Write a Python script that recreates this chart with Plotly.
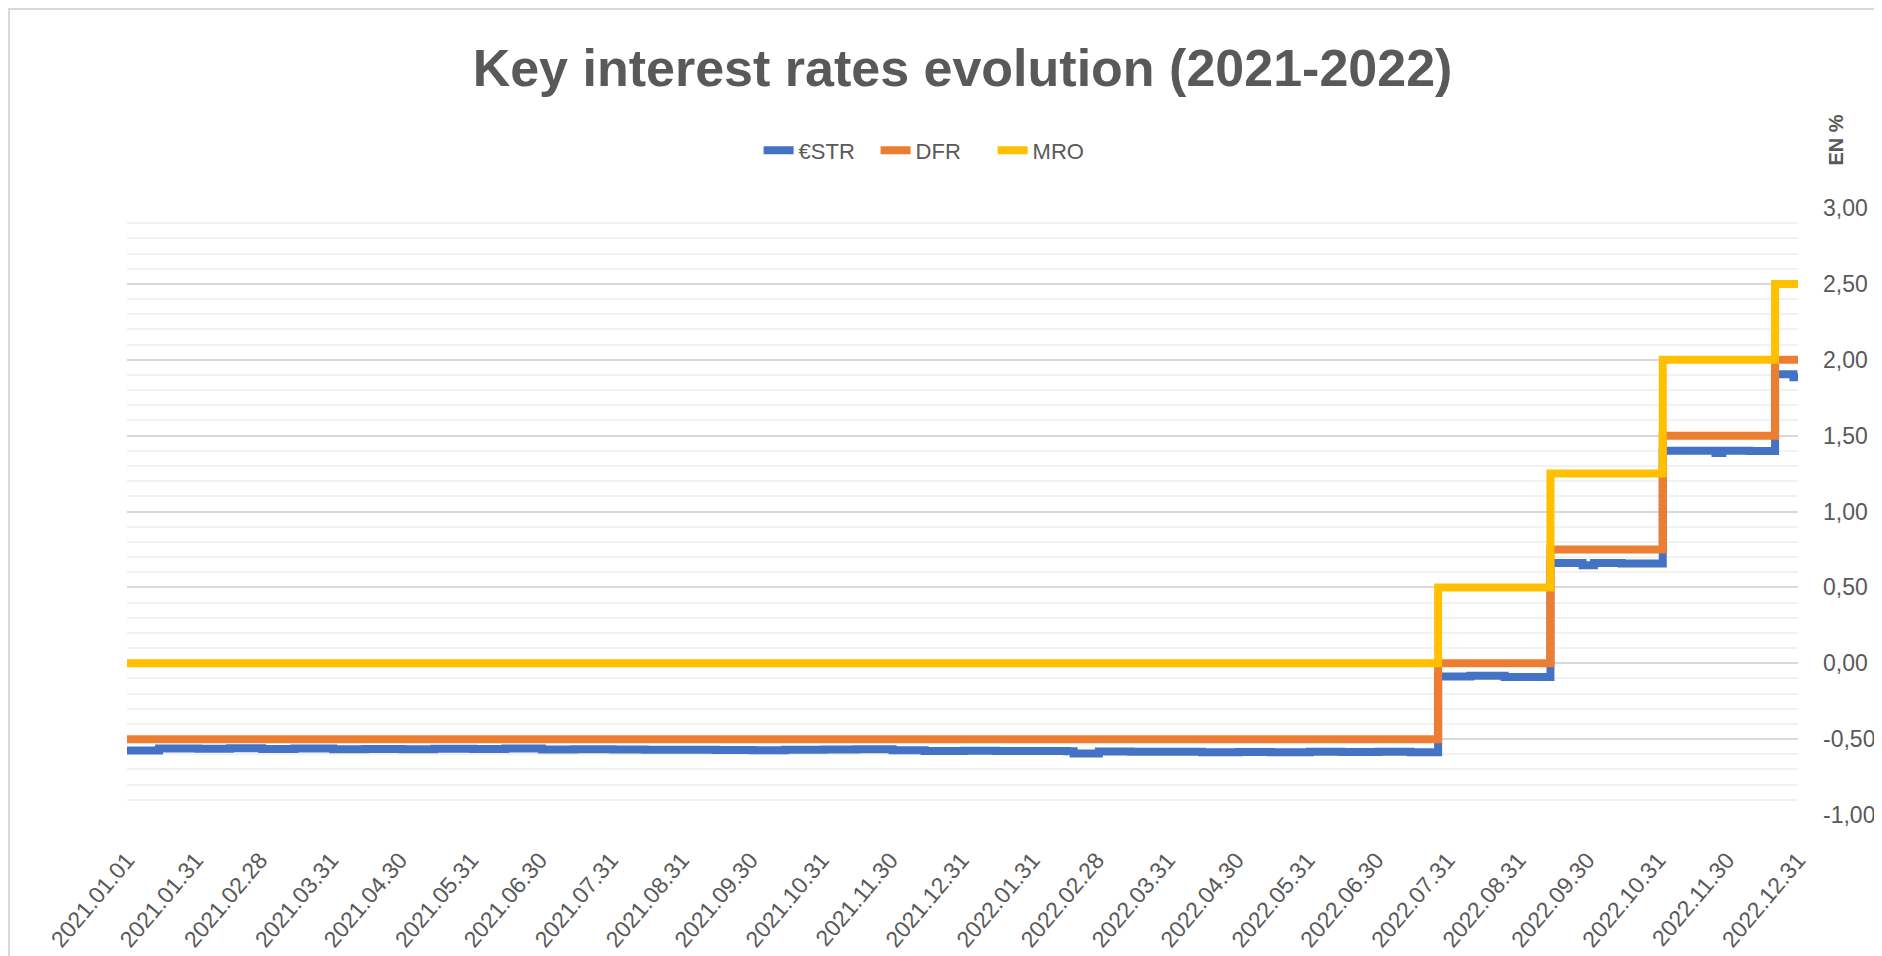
import plotly.graph_objects as go

# policy rate change points (step series)
policy_dates = ["2021-01-01", "2022-07-27", "2022-09-14", "2022-11-02", "2022-12-21", "2022-12-31"]
dfr_values = [-0.50, 0.00, 0.75, 1.50, 2.00, 2.00]
mro_values = [0.00, 0.50, 1.25, 2.00, 2.50, 2.50]

# €STR at roughly fortnightly points
estr_dates = [
    "2021-01-01", "2021-01-15", "2021-02-01", "2021-02-15", "2021-03-01", "2021-03-15",
    "2021-04-01", "2021-04-15", "2021-05-01", "2021-05-15", "2021-06-01", "2021-06-15",
    "2021-07-01", "2021-07-15", "2021-08-01", "2021-08-15", "2021-09-01", "2021-09-15",
    "2021-10-01", "2021-10-15", "2021-11-01", "2021-11-15", "2021-12-01", "2021-12-15",
    "2022-01-01", "2022-01-15", "2022-02-01", "2022-02-15", "2022-02-18", "2022-03-01",
    "2022-03-15", "2022-04-01", "2022-04-15", "2022-05-01", "2022-05-15", "2022-06-01",
    "2022-06-15", "2022-07-01", "2022-07-15", "2022-07-27", "2022-08-10", "2022-08-25",
    "2022-09-14", "2022-09-28", "2022-10-03", "2022-10-15", "2022-11-02", "2022-11-25",
    "2022-11-28", "2022-12-10", "2022-12-21", "2022-12-29", "2022-12-31",
]
estr_values = [
    -0.575, -0.562, -0.564, -0.560, -0.565, -0.562,
    -0.567, -0.565, -0.566, -0.563, -0.565, -0.561,
    -0.568, -0.567, -0.569, -0.570, -0.570, -0.571,
    -0.573, -0.570, -0.568, -0.567, -0.574, -0.578,
    -0.576, -0.578, -0.579, -0.580, -0.595, -0.582,
    -0.584, -0.583, -0.586, -0.585, -0.587, -0.583,
    -0.585, -0.584, -0.586, -0.088, -0.082, -0.090,
    0.660, 0.645, 0.660, 0.658, 1.400, 1.385,
    1.400, 1.398, 1.905, 1.885, 1.885,
]

month_ticks = [
    "2021-01-01", "2021-01-31", "2021-02-28", "2021-03-31", "2021-04-30", "2021-05-31",
    "2021-06-30", "2021-07-31", "2021-08-31", "2021-09-30", "2021-10-31", "2021-11-30",
    "2021-12-31", "2022-01-31", "2022-02-28", "2022-03-31", "2022-04-30", "2022-05-31",
    "2022-06-30", "2022-07-31", "2022-08-31", "2022-09-30", "2022-10-31", "2022-11-30",
    "2022-12-31",
]
y_ticks = [-1.0, -0.5, 0.0, 0.5, 1.0, 1.5, 2.0, 2.5, 3.0]
y_tick_text = ["-1,00", "-0,50", "0,00", "0,50", "1,00", "1,50", "2,00", "2,50", "3,00"]

grey = "#595959"
font_main = "Liberation Sans, Arial, sans-serif"

fig = go.Figure()
fig.add_trace(go.Scatter(x=estr_dates, y=estr_values, name="€STR", mode="lines",
                         line=dict(color="#4472C4", width=8, shape="hv")))
fig.add_trace(go.Scatter(x=policy_dates, y=dfr_values, name="DFR", mode="lines",
                         line=dict(color="#ED7D31", width=8, shape="hv")))
fig.add_trace(go.Scatter(x=policy_dates, y=mro_values, name="MRO", mode="lines",
                         line=dict(color="#FFC000", width=8, shape="hv")))

# the page body adds an 8px offset, so the figure is 8px smaller than the window
fig.update_layout(
    width=1874, height=948,
    margin=dict(l=119, r=84, t=200, b=141),
    paper_bgcolor="white", plot_bgcolor="white",
    font=dict(family=font_main, color=grey),
    title=dict(text="<b>Key interest rates evolution (2021-2022)</b>",
               font=dict(size=52, color=grey, family=font_main),
               x=0.5, xref="paper", xanchor="center", y=0.937, yanchor="middle"),
    legend=dict(orientation="h", x=0.483, xanchor="center", y=1.095, yanchor="middle",
                font=dict(size=22, color=grey), entrywidth=72, entrywidthmode="pixels",
                bgcolor="rgba(0,0,0,0)"),
    showlegend=True,
)

fig.update_xaxes(
    range=["2021-01-01", "2022-12-31"], automargin=False,
    tickmode="array", tickvals=month_ticks,
    tickformat="%Y.%m.%d", tickangle=-50,
    tickfont=dict(size=23, color=grey, family=font_main),
    ticklabelstandoff=26,
    showgrid=False, zeroline=False, showline=False, ticks="",
)
fig.update_yaxes(
    range=[-1, 3], side="right", automargin=False,
    tickmode="array", tickvals=y_ticks, ticktext=y_tick_text,
    tickfont=dict(size=23, color=grey, family=font_main),
    ticklabelstandoff=24,
    showgrid=True, gridcolor="#d9d9d9", gridwidth=2,
    minor=dict(dtick=0.1, tick0=0, showgrid=True, gridcolor="#f2f2f2", gridwidth=2),
    zeroline=False, showline=False, ticks="",
)

fig.add_annotation(text="<b>EN %</b>", textangle=-90, xref="paper", yref="paper",
                   x=1.0225, y=1.112, xanchor="center", yanchor="middle", showarrow=False,
                   font=dict(size=20, color=grey, family=font_main))

# light chart frame, as in the spreadsheet chart
fig.add_shape(type="rect", xref="paper", yref="paper",
              x0=-0.0706, x1=1.06, y0=-0.3, y1=1.328,
              line=dict(color="#d9d9d9", width=2), fillcolor="rgba(0,0,0,0)", layer="below")

fig.write_html("out.html")
